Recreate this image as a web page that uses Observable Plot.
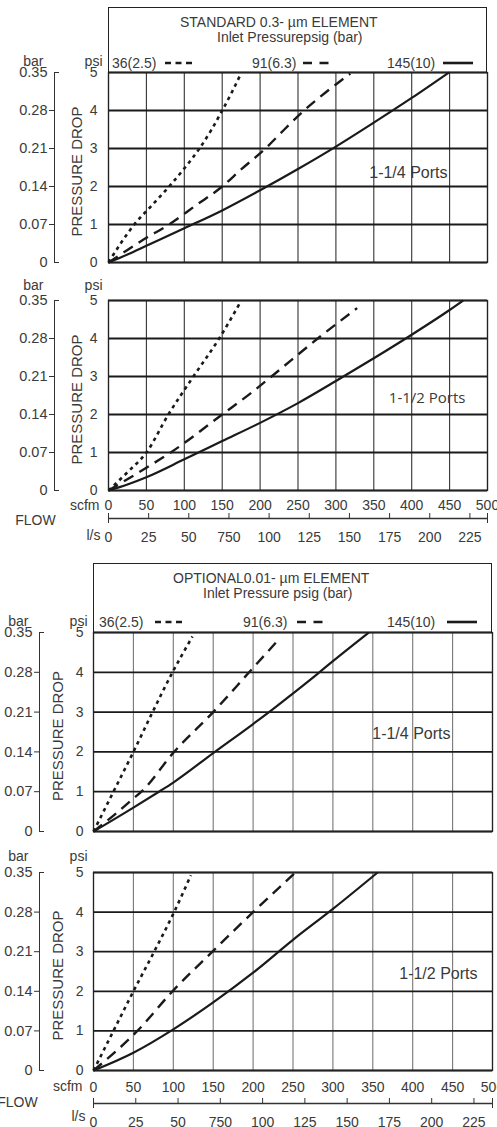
<!DOCTYPE html>
<html><head><meta charset="utf-8">
<script src="https://cdn.jsdelivr.net/npm/d3@7"></script>
<script src="https://cdn.jsdelivr.net/npm/@observablehq/plot@0.6"></script>
<style>
html,body{margin:0;padding:0;background:#fff;}
#root{position:relative;width:497px;height:1127px;overflow:hidden;font-family:"Liberation Sans",Arial,sans-serif;color:#3a3a3a;}
.abs{position:absolute;white-space:nowrap;line-height:1;}
.box{position:absolute;border:1px solid #222;border-bottom:none;box-sizing:border-box;}
.pw{position:absolute;left:0;}
</style></head><body><div id="root"></div>
<script>
// ---------- axis tick values / labels ----------
const SCFM_TICKS = [0, 50, 100, 150, 200, 250, 300, 350, 400, 450, 500];
const PSI_TICKS = [0, 1, 2, 3, 4, 5];
const BAR_LABELS = ["0", "0.07", "0.14", "0.21", "0.28", "0.35"];
const LS_TICKS = [0, 25, 50, 75, 100, 125, 150, 175, 200, 225];
const LS_LABELS = ["0", "25", "50", "750", "100", "125", "150", "175", "200", "225"];
const SCFM_PER_LS = 2.119;
const SERIES = ["36(2.5)", "91(6.3)", "145(10)"];

// ---------- STANDARD 0.3-µm, 1-1/4 Ports ----------
const stdQuarter36Scfm = [0, 16, 34, 57, 80, 101, 120, 136, 150, 162, 173];
const stdQuarter36Psi  = [0, 0.5, 1, 1.5, 2, 2.5, 3, 3.5, 4, 4.45, 4.9];
const stdQuarter91Scfm = [0, 25, 50, 80, 115, 150, 175, 207, 232, 258, 288, 319];
const stdQuarter91Psi  = [0, 0.33, 0.65, 1, 1.5, 2, 2.45, 3, 3.5, 4, 4.5, 4.97];
const stdQuarter145Scfm = [0, 25, 50, 100, 150, 200, 250, 300, 350, 400, 449];
const stdQuarter145Psi  = [0, 0.21, 0.44, 0.9, 1.37, 1.9, 2.46, 3.05, 3.68, 4.33, 5];

// ---------- STANDARD 0.3-µm, 1-1/2 Ports ----------
const stdHalf36Scfm = [0, 25, 50, 79, 112, 146, 173];
const stdHalf36Psi  = [0, 0.48, 1, 2, 3, 4, 4.92];
const stdHalf91Scfm = [0, 50, 82, 150, 187, 215, 276, 328];
const stdHalf91Psi  = [0, 0.6, 1, 2, 2.55, 3, 4, 4.8];
const stdHalf145Scfm = [0, 25, 50, 100, 150, 200, 250, 300, 350, 400, 450, 468];
const stdHalf145Psi  = [0, 0.16, 0.35, 0.82, 1.3, 1.78, 2.3, 2.88, 3.48, 4.1, 4.75, 5];

// ---------- OPTIONAL 0.01-µm, 1-1/4 Ports ----------
const optQuarter36Scfm = [0, 25, 50, 74, 99, 124];
const optQuarter36Psi  = [0, 1, 2, 3, 4, 4.9];
const optQuarter91Scfm = [0, 25, 50, 60, 101, 150, 195, 231];
const optQuarter91Psi  = [0, 0.4, 0.83, 1, 2, 3, 4, 4.8];
const optQuarter145Scfm = [0, 50, 82, 100, 150, 200, 222, 250, 280, 300, 345];
const optQuarter145Psi  = [0, 0.6, 1, 1.23, 1.97, 2.7, 3.03, 3.47, 3.95, 4.28, 5];

// ---------- OPTIONAL 0.01-µm, 1-1/2 Ports ----------
const optHalf36Scfm = [0, 25, 50, 76, 101, 122];
const optHalf36Psi  = [0, 1, 2, 3, 4, 4.93];
const optHalf91Scfm = [0, 55, 99, 149, 200, 253];
const optHalf91Psi  = [0, 1, 2, 3, 4, 5];
const optHalf145Scfm = [0, 50, 100, 150, 200, 250, 300, 356];
const optHalf145Psi  = [0, 0.45, 1.04, 1.72, 2.47, 3.3, 4.08, 5];

// ---------- helpers ----------
function table(pairs) {
  const out = [];
  pairs.forEach(([scfm, psi], k) => scfm.forEach((s, i) => out.push({series: SERIES[k], scfm: s, psi: psi[i]})));
  return out;
}
const LINE_STYLE = {
  "36(2.5)": {strokeDasharray: "3.5,4", strokeWidth: 2.6},
  "91(6.3)": {strokeDasharray: "11,7", strokeWidth: 2.4},
  "145(10)": {strokeDasharray: null, strokeWidth: 2.2}
};
const FONT = '"Liberation Sans", Arial, sans-serif';
const root = document.getElementById("root");

function addText(txt, left, cy, size = 14, family = FONT) {
  const el = document.createElement("div");
  el.className = "abs";
  el.textContent = txt;
  el.style.left = left + "px";
  el.style.top = (cy - size * 0.5) + "px";
  el.style.fontSize = size + "px";
  el.style.fontFamily = family;
  root.appendChild(el);
}
function addSwatch(x0, x1, cy, series) {
  const svg = d3.create("svg").attr("width", x1 - x0).attr("height", 8)
    .style("position", "absolute").style("left", x0 + "px").style("top", (cy - 4) + "px");
  svg.append("line").attr("x1", 0).attr("x2", x1 - x0).attr("y1", 4).attr("y2", 4)
    .attr("stroke", "#1a1a1a").attr("stroke-width", 2.6)
    .attr("stroke-dasharray", series === "36(2.5)" ? "6,4.5" : series === "91(6.3)" ? "9,7.5" : null);
  root.appendChild(svg.node());
}
function addBox(left, top, width, height) {
  const el = document.createElement("div");
  el.className = "box";
  Object.assign(el.style, {left: left + "px", top: top + "px", width: width + "px", height: height + "px"});
  root.appendChild(el);
}

function panel(cfg) {
  const {top, height, mt, mb, ml, mr, data, ports, portsFont, portsSize, portsDx, portsDy, vGrid, unitDy, pdDx, psiPad, flow} = cfg;
  const txt = {text: d => d, lineAnchor: "middle", fontSize: 14};
  const marks = [
    Plot.ruleX(SCFM_TICKS, {stroke: vGrid, strokeWidth: 1.1}),
    Plot.ruleY(PSI_TICKS, {stroke: "#1a1a1a", strokeWidth: 1.8}),
    Plot.frame({stroke: "#222", strokeWidth: 1.3}),
    Plot.axisY(PSI_TICKS, {anchor: "left", label: null, tickSize: 0, tickPadding: psiPad, fontSize: 14}),
    Plot.ruleX([0], {dx: -54, stroke: "#333", strokeWidth: 1}),
    Plot.axisY(PSI_TICKS.slice(1, 5), {anchor: "left", label: null, tickSize: 5, dx: -54, text: null, stroke: "#333"}),
    Plot.axisY([0, 5], {anchor: "left", label: null, tickSize: -5, dx: -54, text: null, stroke: "#333"}),
    Plot.axisY(PSI_TICKS, {anchor: "left", label: null, tickSize: 0, tickPadding: 7, dx: -54, tickFormat: d => BAR_LABELS[d], fontSize: 14.5}),
    Plot.text(["PRESSURE DROP"], {...txt, frameAnchor: "left", textAnchor: "middle", rotate: -90, dx: pdDx, dy: 4, fontSize: 15}),
    Plot.text(["bar"], {...txt, frameAnchor: "top-left", textAnchor: "end", dx: -65, dy: unitDy}),
    Plot.text(["psi"], {...txt, frameAnchor: "top-left", textAnchor: "end", dx: -6, dy: unitDy}),
    Plot.text([ports], {...txt, frameAnchor: "right", textAnchor: "end", dx: portsDx, dy: portsDy, fontSize: portsSize, fontFamily: portsFont})
  ];
  for (const s of SERIES) {
    marks.push(Plot.line(data.filter(d => d.series === s), {
      x: "scfm", y: "psi", curve: "monotone-x", stroke: "#1a1a1a",
      strokeDasharray: LINE_STYLE[s].strokeDasharray, strokeWidth: LINE_STYLE[s].strokeWidth,
      strokeLinecap: "butt"
    }));
  }
  if (flow) {
    const lsScfm = LS_TICKS.map(v => v * SCFM_PER_LS);
    const lsLabel = new Map(lsScfm.map((v, i) => [v, LS_LABELS[i]]));
    marks.push(
      Plot.axisX(SCFM_TICKS, {anchor: "bottom", label: null, tickSize: 0, tickPadding: flow.scfmPad, fontSize: 14}),
      Plot.ruleY([0], {dy: flow.lineOff, stroke: "#333", strokeWidth: 1.3}),
      Plot.axisX(lsScfm, {anchor: "bottom", label: null, tickSize: 5, dy: flow.lineOff - 5, text: null, stroke: "#333"}),
      Plot.axisX([0, 500], {anchor: "bottom", label: null, tickSize: 10, dy: flow.lineOff - 5, text: null, stroke: "#333"}),
      Plot.axisX(lsScfm, {anchor: "bottom", label: null, tickSize: 0, tickPadding: flow.lsPad, tickFormat: d => lsLabel.get(d), fontSize: 14}),
      Plot.text(["scfm"], {...txt, frameAnchor: "bottom-left", textAnchor: "end", dx: flow.scfmDx, dy: flow.scfmDy}),
      Plot.text(["FLOW"], {...txt, frameAnchor: "bottom-left", textAnchor: "middle", dx: flow.flowDx, dy: flow.flowDy}),
      Plot.text(["l/s"], {...txt, frameAnchor: "bottom-left", textAnchor: "end", dx: flow.lsDx, dy: flow.lsDy})
    );
  }
  const svg = Plot.plot({
    width: 497, height,
    marginTop: mt, marginBottom: mb, marginLeft: ml, marginRight: mr,
    x: {domain: [0, 500], axis: null, label: null},
    y: {domain: [0, 5], axis: null, label: null},
    style: {fontFamily: FONT, fontSize: "14px", color: "#3a3a3a", background: "none", overflow: "visible"},
    marks
  });
  const wrap = document.createElement("div");
  wrap.className = "pw";
  wrap.style.top = top + "px";
  wrap.appendChild(svg);
  root.appendChild(wrap);
}

// ---------- headers ----------
addBox(108, 7, 379, 66);
addText("STANDARD 0.3- µm ELEMENT", 180, 22);
addText("Inlet Pressurepsig (bar)", 217, 37);
addText(SERIES[0], 112, 63); addSwatch(165, 193, 63, SERIES[0]);
addText(SERIES[1], 252, 63); addSwatch(303, 333, 63, SERIES[1]);
addText(SERIES[2], 387, 63); addSwatch(443, 473, 63, SERIES[2]);

addBox(93, 563, 399, 70);
addText("OPTIONAL0.01- µm ELEMENT", 173, 578);
addText("Inlet Pressure psig (bar)", 203, 593);
addText(SERIES[0], 99, 622); addSwatch(155, 182, 622, SERIES[0]);
addText(SERIES[1], 243, 622); addSwatch(297, 330, 622, SERIES[1]);
addText(SERIES[2], 387, 622); addSwatch(447, 477, 622, SERIES[2]);

// ---------- panels ----------
panel({top: 0, height: 270, mt: 72, mb: 8, ml: 108, mr: 10,
  data: table([[stdQuarter36Scfm, stdQuarter36Psi], [stdQuarter91Scfm, stdQuarter91Psi], [stdQuarter145Scfm, stdQuarter145Psi]]),
  ports: "1-1/4 Ports", portsFont: FONT, portsSize: 16, portsDx: -40, portsDy: 5,
  vGrid: "#333", unitDy: -11, pdDx: -31, psiPad: 11});
panel({top: 270, height: 280, mt: 30, mb: 60, ml: 108, mr: 10,
  data: table([[stdHalf36Scfm, stdHalf36Psi], [stdHalf91Scfm, stdHalf91Psi], [stdHalf145Scfm, stdHalf145Psi]]),
  ports: "1-1/2 Ports", portsFont: '"Open Sans", sans-serif', portsSize: 15, portsDx: -22, portsDy: 3,
  vGrid: "#333", unitDy: -15, pdDx: -31, psiPad: 11,
  flow: {scfmPad: 10, lineOff: 28, lsPad: 42, scfmDx: -9, scfmDy: 15, flowDx: -73, flowDy: 30, lsDx: -8, lsDy: 45}});
panel({top: 560, height: 280, mt: 72, mb: 9, ml: 93, mr: 5,
  data: table([[optQuarter36Scfm, optQuarter36Psi], [optQuarter91Scfm, optQuarter91Psi], [optQuarter145Scfm, optQuarter145Psi]]),
  ports: "1-1/4 Ports", portsFont: FONT, portsSize: 16, portsDx: -42, portsDy: 2,
  vGrid: "#777", unitDy: -11, pdDx: -35, psiPad: 10});
panel({top: 840, height: 287, mt: 32, mb: 57, ml: 93, mr: 5,
  data: table([[optHalf36Scfm, optHalf36Psi], [optHalf91Scfm, optHalf91Psi], [optHalf145Scfm, optHalf145Psi]]),
  ports: "1-1/2 Ports", portsFont: FONT, portsSize: 16, portsDx: -15, portsDy: 2,
  vGrid: "#777", unitDy: -16, pdDx: -35, psiPad: 10,
  flow: {scfmPad: 12, lineOff: 33, lsPad: 47, scfmDx: -11, scfmDy: 16, flowDx: -76, flowDy: 32, lsDx: -8, lsDy: 46}});
</script></body></html>
